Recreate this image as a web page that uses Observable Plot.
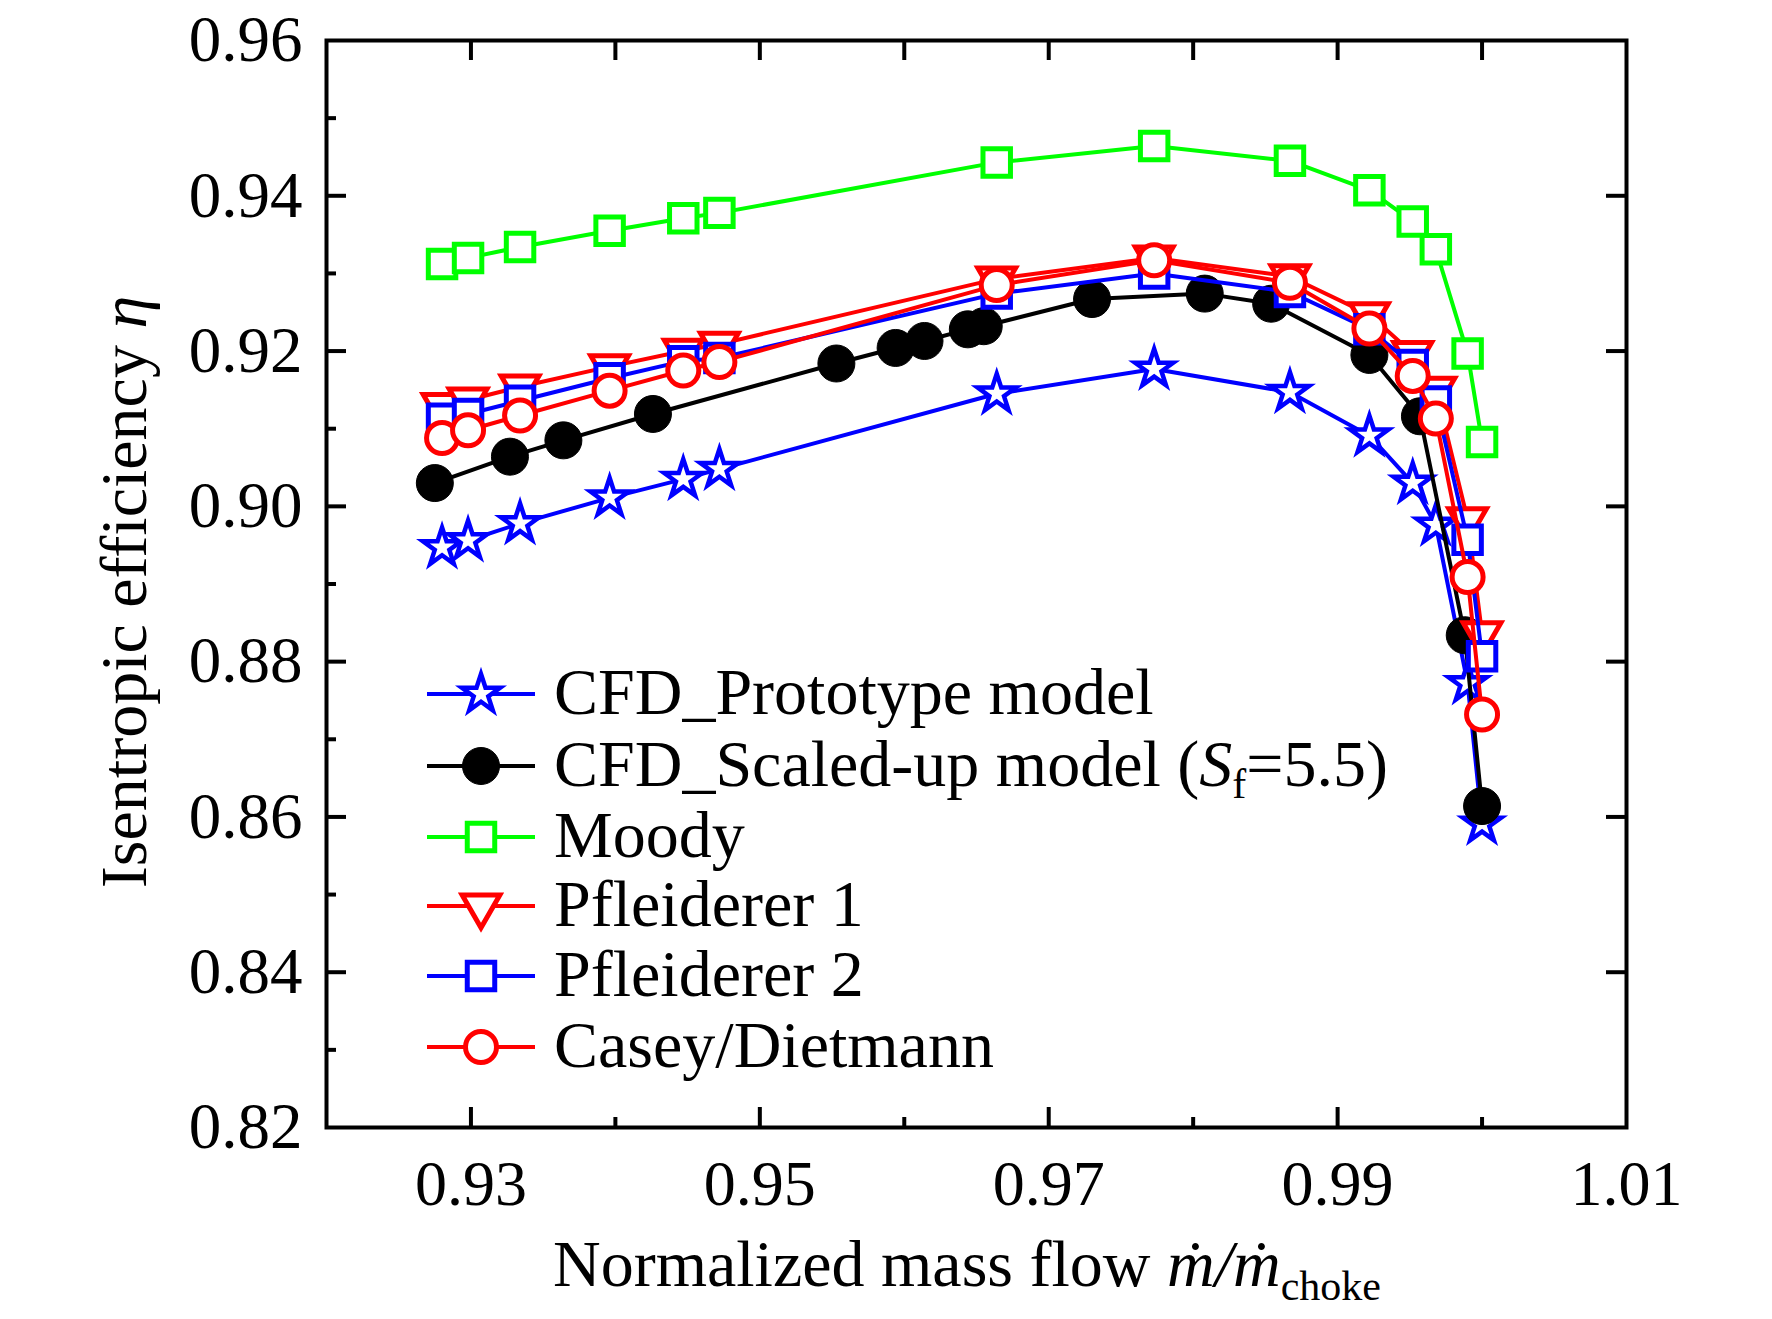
<!DOCTYPE html>
<html><head><meta charset="utf-8">
<script src="https://cdn.jsdelivr.net/npm/d3@7"></script>
<script src="https://cdn.jsdelivr.net/npm/@observablehq/plot@0.6"></script>
<style>body{margin:0;background:#fff}#wrap{width:1772px;height:1319px}</style>
</head><body><div id="wrap"></div>
<script>
// ---- data ----
const massFlow = [0.9280, 0.9298, 0.9334, 0.9396, 0.9447, 0.9472, 0.9664, 0.9773, 0.9867, 0.9922, 0.9952, 0.9968, 0.9990, 1.0000];
const cfdPrototype = [0.8947, 0.8956, 0.8978, 0.9011, 0.9035, 0.9048, 0.9145, 0.9177, 0.9147, 0.9091, 0.9030, 0.8976, 0.8772, 0.8591];
const scaledMassFlow = [0.9275, 0.9327, 0.9364, 0.9426, 0.9553, 0.9594, 0.9614, 0.9644, 0.9655, 0.9730, 0.9808, 0.9854, 0.9922, 0.9957, 0.9988, 1.0000];
const cfdScaled = [0.9030, 0.9064, 0.9085, 0.9119, 0.9184, 0.9204, 0.9213, 0.9228, 0.9232, 0.9267, 0.9274, 0.9261, 0.9195, 0.9116, 0.8834, 0.8614];
const moody = [0.9312, 0.9320, 0.9334, 0.9355, 0.9371, 0.9378, 0.9443, 0.9464, 0.9445, 0.9407, 0.9367, 0.9331, 0.9197, 0.9083];
const pfleiderer1 = [0.9130, 0.9137, 0.9154, 0.9180, 0.9200, 0.9209, 0.9293, 0.9320, 0.9296, 0.9247, 0.9197, 0.9151, 0.8983, 0.8836];
const pfleiderer2 = [0.9113, 0.9119, 0.9136, 0.9165, 0.9187, 0.9191, 0.9274, 0.9300, 0.9276, 0.9228, 0.9182, 0.9135, 0.8957, 0.8807];
const caseyDietmann = [0.9088, 0.9098, 0.9117, 0.9149, 0.9175, 0.9186, 0.9285, 0.9317, 0.9288, 0.9229, 0.9168, 0.9113, 0.8909, 0.8732];

const xTickLabels = [0.93, 0.95, 0.97, 0.99, 1.01];
const xTicksMinor = [0.94, 0.96, 0.98, 1.00];
const xTicksTop = [0.93, 0.94, 0.95, 0.96, 0.97, 0.98, 0.99, 1.00];
const yTickLabels = [0.82, 0.84, 0.86, 0.88, 0.90, 0.92, 0.94, 0.96];
const yTicksMinor = [0.83, 0.85, 0.87, 0.89, 0.91, 0.93, 0.95];
const yTicksRight = [0.84, 0.86, 0.88, 0.90, 0.92, 0.94];

// ---- styling ----
const FONT = "'Liberation Serif', 'Times New Roman', serif";
const W = 1772, H = 1319, ML = 326, MR = 146, MT = 40, MB = 192;
const innerW = W - ML - MR, innerH = H - MT - MB;

const triangleDown = {
  draw(context, size) {
    const y = -Math.sqrt(size / (Math.sqrt(3) * 3));
    context.moveTo(0, -2 * y);
    context.lineTo(-Math.sqrt(3) * y, y);
    context.lineTo(Math.sqrt(3) * y, y);
    context.closePath();
  }
};

const series = [
  {name: "CFD_Prototype model", xs: massFlow, ys: cfdPrototype, color: "#0000ff", symbol: d3.symbolStar, r: 12, fill: "white", sw: 4.5},
  {name: "CFD_Scaled-up model", xs: scaledMassFlow, ys: cfdScaled, color: "#000000", symbol: d3.symbolCircle, r: 18.5, fill: "#000000", sw: 1},
  {name: "Moody", xs: massFlow, ys: moody, color: "#00ff00", symbol: d3.symbolSquare, r: 15.5, fill: "white", sw: 5},
  {name: "Pfleiderer 1", xs: massFlow, ys: pfleiderer1, color: "#ff0000", symbol: triangleDown, r: 14, fill: "white", sw: 5},
  {name: "Pfleiderer 2", xs: massFlow, ys: pfleiderer2, color: "#0000ff", symbol: d3.symbolSquare, r: 15.5, fill: "white", sw: 5},
  {name: "Casey/Dietmann", xs: massFlow, ys: caseyDietmann, color: "#ff0000", symbol: d3.symbolCircle, r: 15.5, fill: "white", sw: 5}
];

const marks = [];
for (const s of series) {
  const rows = s.xs.map((x, i) => ({x, y: s.ys[i]}));
  marks.push(Plot.line(rows, {x: "x", y: "y", stroke: s.color, strokeWidth: 4}));
  marks.push(Plot.dot(rows, {x: "x", y: "y", symbol: s.symbol, r: s.r, fill: s.fill, stroke: s.color, strokeWidth: s.sw}));
}

const tickStyle = {stroke: "black", strokeWidth: 4};
marks.push(
  Plot.tickX(xTickLabels.filter(d => d < 1.01), {x: d => d, insetTop: innerH - 20, ...tickStyle}),
  Plot.tickX(xTicksMinor, {x: d => d, insetTop: innerH - 10, ...tickStyle}),
  Plot.tickX(xTicksTop, {x: d => d, insetBottom: innerH - 20, ...tickStyle}),
  Plot.tickY(yTickLabels.filter(d => d > 0.82 && d < 0.96), {y: d => d, insetRight: innerW - 20, ...tickStyle}),
  Plot.tickY(yTicksMinor, {y: d => d, insetRight: innerW - 10, ...tickStyle}),
  Plot.tickY(yTicksRight, {y: d => d, insetLeft: innerW - 20, ...tickStyle}),
  Plot.frame({stroke: "black", strokeWidth: 4}),
  Plot.axisX(xTickLabels, {tickSize: 0, tickPadding: 32, fontSize: 64, fontFamily: FONT, fill: "black", tickFormat: d => d.toFixed(2), label: null}),
  Plot.axisY(yTickLabels, {tickSize: 0, tickPadding: 24, fontSize: 65, fontFamily: FONT, fill: "black", tickFormat: d => d.toFixed(2), label: null})
);

const svg = Plot.plot({
  width: W, height: H,
  marginLeft: ML, marginRight: MR, marginTop: MT, marginBottom: MB,
  x: {domain: [0.92, 1.01]},
  y: {domain: [0.82, 0.96]},
  style: {fontFamily: FONT, background: "white", color: "black", overflow: "visible"},
  marks
});

const root = d3.select(svg);

// axis titles
const yt = root.append("text")
  .attr("transform", "translate(146,592) rotate(-90)")
  .attr("text-anchor", "middle")
  .attr("font-family", FONT).attr("font-size", 66).attr("fill", "black");
yt.append("tspan").text("Isentropic efficiency ");
yt.append("tspan").attr("font-style", "italic").text("η");

const xt = root.append("text")
  .attr("x", 967).attr("y", 1286)
  .attr("text-anchor", "middle")
  .attr("font-family", FONT).attr("font-size", 66).attr("fill", "black");
xt.append("tspan").text("Normalized mass flow ");
xt.append("tspan").attr("font-style", "italic").text("ṁ/ṁ");
xt.append("tspan").attr("font-size", 42).attr("dy", 14).text("choke");

// legend
const legendRows = [694, 766, 837, 906, 976, 1047];
const lg = root.append("g").attr("text-anchor", "start");
series.forEach((s, i) => {
  const y = legendRows[i];
  lg.append("line").attr("x1", 427).attr("x2", 535).attr("y1", y).attr("y2", y)
    .attr("stroke", s.color).attr("stroke-width", 4);
  lg.append("path").attr("transform", `translate(481,${y})`)
    .attr("d", d3.symbol(s.symbol, Math.PI * s.r * s.r)())
    .attr("fill", s.fill).attr("stroke", s.color).attr("stroke-width", s.sw);
  const t = lg.append("text").attr("x", 554).attr("y", y + 20)
    .attr("text-anchor", "start")
    .attr("font-family", FONT).attr("font-size", 66).attr("fill", "black");
  if (i === 1) {
    t.append("tspan").text("CFD_Scaled-up model (");
    t.append("tspan").attr("font-style", "italic").text("S");
    t.append("tspan").attr("font-size", 42).attr("dy", 12).text("f");
    t.append("tspan").attr("dy", -12).text("=5.5)");
  } else {
    t.text(s.name);
  }
});

document.getElementById("wrap").appendChild(svg);
</script>
</body></html>
